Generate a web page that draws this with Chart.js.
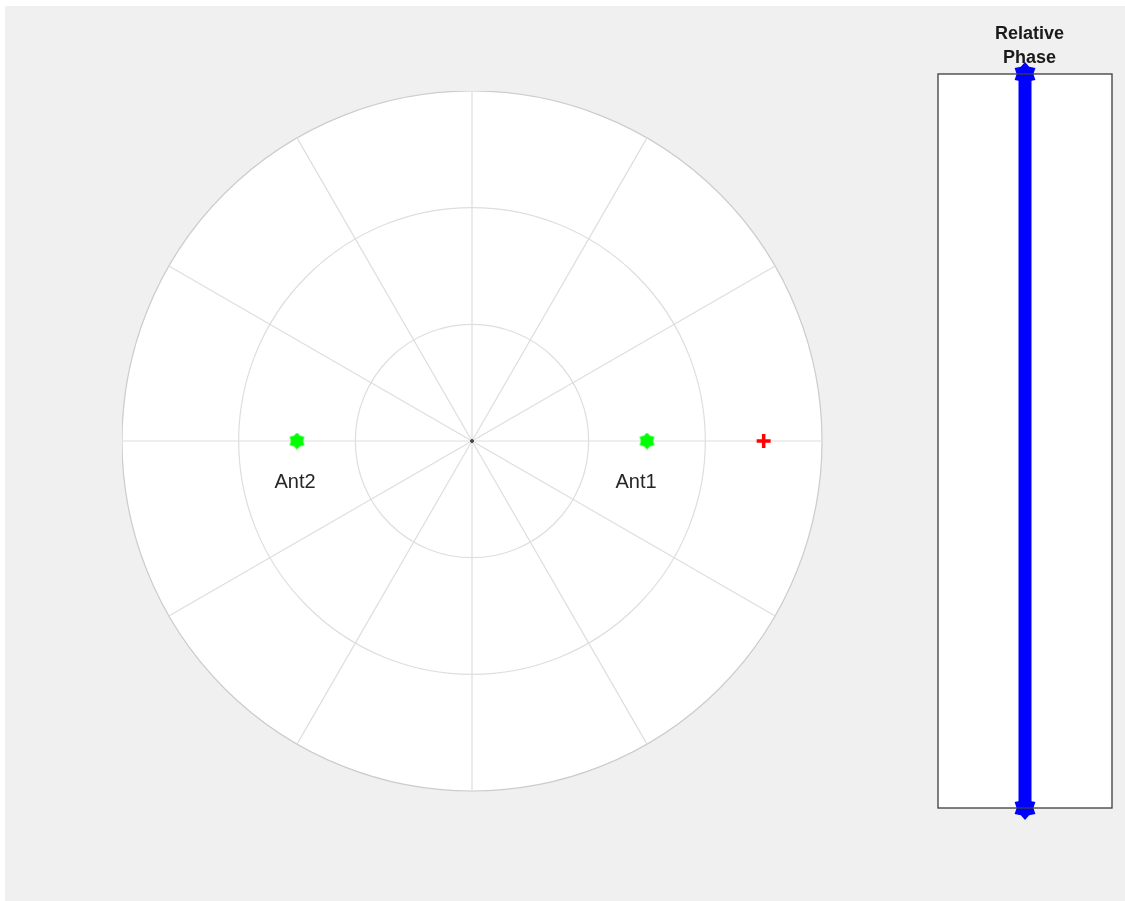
<!DOCTYPE html>
<html>
<head>
<meta charset="utf-8">
<script src="https://cdn.jsdelivr.net/npm/chart.js@4/dist/chart.umd.min.js"></script>
<style>
  html, body { margin: 0; padding: 0; background: #ffffff; overflow: hidden; }
  #fig { position: absolute; left: 5px; top: 6px; width: 1120px; height: 895px; background: #f0f0f0; }
  #polar { position: absolute; left: 122px; top: 91px; }
  #phase { position: absolute; left: 904px; top: 0px; }
</style>
</head>
<body>
<div id="fig"></div>
<canvas id="polar" width="701" height="701"></canvas>
<canvas id="phase" width="225" height="850"></canvas>
<script>
// polar grid: spokes every 30 deg, starting at the top and going clockwise
var spokeAngles = [90, 60, 30, 0, 330, 300, 270, 240, 210, 180, 150, 120];
var ringMax = 3;

// antenna positions (angle in deg, radius in ring units)
var antennaNames = ['Ant1', 'Ant2'];
var antennaAngles = [0, 180];
var antennaRadius = [1.5, 1.5];

// estimated source direction
var targetAngles = [0];
var targetRadius = [2.5];

// relative phase bar
var phaseLimits = [-180, 180];
var phaseValue = 0;

function toRadarData(angles, radii) {
    var out = spokeAngles.map(function () { return null; });
    angles.forEach(function (a, i) {
        out[spokeAngles.indexOf(a)] = radii[i];
    });
    return out;
}

// filled six-point star used as a marker
function makeStar(color, size, inner) {
    var c = document.createElement('canvas');
    c.width = size; c.height = size;
    var g = c.getContext('2d');
    var r = size / 2, cx = size / 2, cy = size / 2;
    g.fillStyle = color;
    g.beginPath();
    for (var k = 0; k < 12; k++) {
        var rr = k % 2 === 0 ? r : r * inner;
        var a = -Math.PI / 2 + k * Math.PI / 6;
        var px = cx + rr * Math.cos(a), py = cy + rr * Math.sin(a);
        if (k === 0) g.moveTo(px, py); else g.lineTo(px, py);
    }
    g.closePath();
    g.fill();
    return c;
}

var whiteDisc = {
    id: 'whiteDisc',
    beforeDraw: function (chart) {
        var s = chart.scales.r, ctx = chart.ctx;
        ctx.save();
        ctx.fillStyle = '#ffffff';
        ctx.beginPath();
        ctx.arc(s.xCenter, s.yCenter, s.drawingArea, 0, Math.PI * 2);
        ctx.fill();
        ctx.restore();
    }
};

var antennaLabels = {
    id: 'antennaLabels',
    afterDatasetsDraw: function (chart) {
        var ctx = chart.ctx;
        var meta = chart.getDatasetMeta(0);
        var dx = [-11, -2];
        ctx.save();
        ctx.font = '20px "Liberation Sans", Arial, sans-serif';
        ctx.fillStyle = '#262626';
        ctx.textAlign = 'center';
        ctx.textBaseline = 'middle';
        antennaAngles.forEach(function (a, i) {
            var pt = meta.data[spokeAngles.indexOf(a)];
            ctx.fillText(antennaNames[i], pt.x + dx[i], pt.y + 41);
        });
        ctx.restore();
    }
};

new Chart(document.getElementById('polar'), {
    type: 'radar',
    data: {
        labels: spokeAngles.map(String),
        datasets: [{
            label: 'Antennas',
            data: toRadarData(antennaAngles, antennaRadius),
            showLine: false,
            pointStyle: makeStar('#00ff00', 17, 0.72),
            borderColor: '#00ff00',
            backgroundColor: '#00ff00'
        }, {
            label: 'Target',
            data: toRadarData(targetAngles, targetRadius),
            showLine: false,
            pointStyle: 'cross',
            pointRadius: 7,
            pointBorderWidth: 3.5,
            borderColor: '#ff0000',
            backgroundColor: '#ff0000'
        }, {
            label: 'Origin',
            data: toRadarData([90], [0]),
            showLine: false,
            pointRadius: 1.5,
            borderColor: '#444444',
            backgroundColor: '#444444'
        }]
    },
    options: {
        responsive: false,
        animation: false,
        layout: { padding: 0 },
        plugins: { legend: { display: false }, tooltip: { enabled: false } },
        scales: {
            r: {
                min: 0,
                max: ringMax,
                ticks: { display: false, stepSize: 1 },
                pointLabels: { display: false },
                grid: {
                    circular: true,
                    color: function (c) { return c.index === ringMax ? '#cccccc' : '#dedede'; },
                    lineWidth: 1.2
                },
                angleLines: { color: '#dedede', lineWidth: 1.2 }
            }
        }
    },
    plugins: [whiteDisc, antennaLabels]
});

var boxFrame = {
    id: 'boxFrame',
    beforeDraw: function (chart) {
        var a = chart.chartArea, ctx = chart.ctx;
        ctx.save();
        ctx.fillStyle = '#ffffff';
        ctx.fillRect(a.left, a.top, a.right - a.left, a.bottom - a.top);
        ctx.restore();
    },
    afterDraw: function (chart) {
        var a = chart.chartArea, ctx = chart.ctx;
        ctx.save();
        ctx.strokeStyle = '#3c3c3c';
        ctx.lineWidth = 1.3;
        ctx.strokeRect(a.left, a.top, a.right - a.left, a.bottom - a.top);
        ctx.restore();
    }
};

new Chart(document.getElementById('phase'), {
    type: 'scatter',
    data: {
        datasets: [{
            label: 'Relative Phase',
            data: [{ x: phaseValue, y: phaseLimits[0] }, { x: phaseValue, y: phaseLimits[1] }],
            showLine: true,
            borderColor: '#0000ff',
            borderWidth: 13,
            pointStyle: makeStar('#0000ff', 24, 0.7),
            clip: false
        }]
    },
    options: {
        responsive: false,
        animation: false,
        layout: { padding: { left: 34, right: 8, top: 0, bottom: 42 } },
        plugins: {
            legend: { display: false },
            tooltip: { enabled: false },
            title: {
                display: true,
                text: ['Relative', 'Phase'],
                color: '#1a1a1a',
                font: { family: '"Liberation Sans", Arial, sans-serif', size: 18, weight: 'bold', lineHeight: 1.333 },
                padding: { top: 22, bottom: 4 }
            }
        },
        scales: {
            x: { display: false, min: -1, max: 1 },
            y: { display: false, min: phaseLimits[0], max: phaseLimits[1] }
        }
    },
    plugins: [boxFrame]
});
</script>
</body>
</html>
